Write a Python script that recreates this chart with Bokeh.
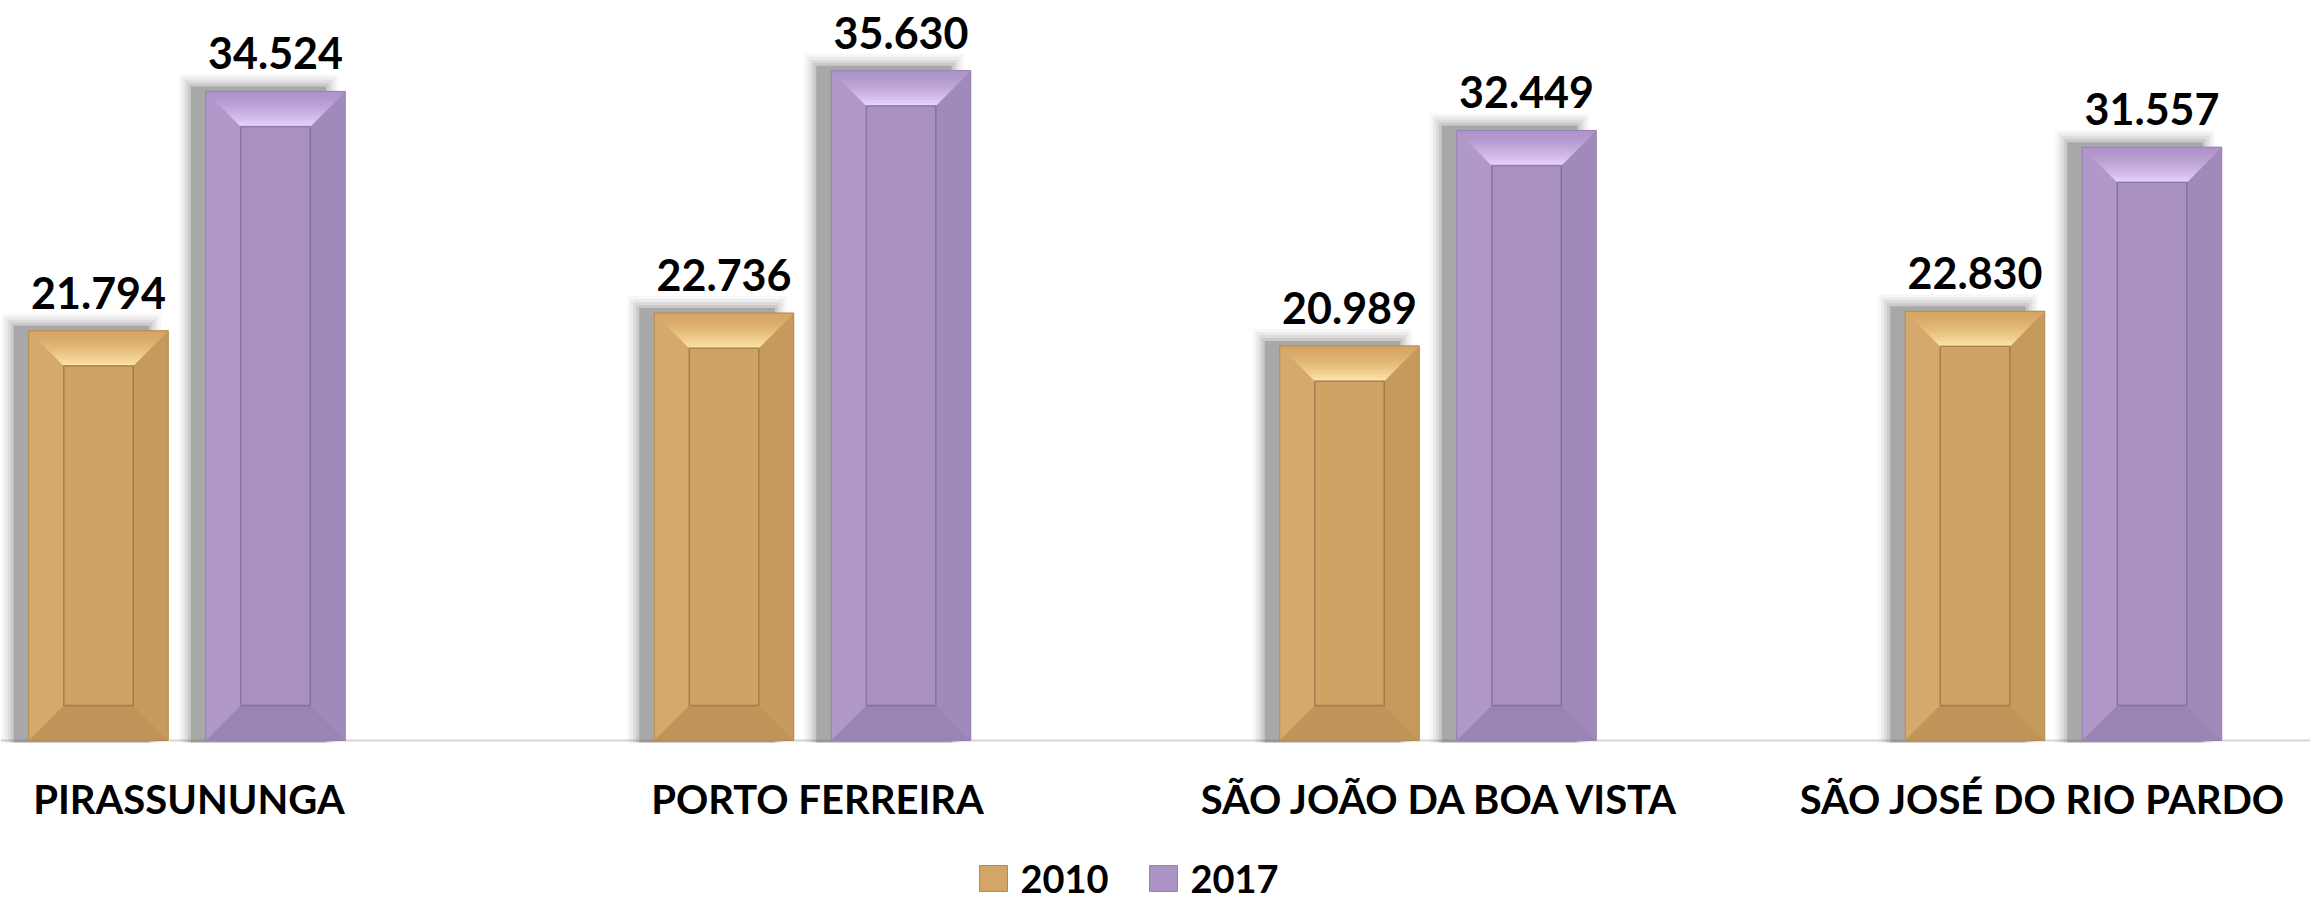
from bokeh.plotting import figure
from bokeh.models import Range1d
from bokeh.core.properties import value
from bokeh.embed import file_html
from bokeh.resources import INLINE

# ---------------- data ----------------
categories = ["PIRASSUNUNGA", "PORTO FERREIRA", "SÃO JOÃO DA BOA VISTA", "SÃO JOSÉ DO RIO PARDO"]
years = ["2010", "2017"]
values_2010 = [21794, 22736, 20989, 22830]
values_2017 = [34524, 35630, 32449, 31557]

# ---------------- layout constants ----------------
W, H = 2310, 904
PX_X = 625.5          # pixels per category step
PX_Y = 0.0188         # pixels per unit of value
X_START = -186.5 / PX_X
X_END = X_START + W / PX_X
Y_END = 740 / PX_Y
FONT = "Lato"

def dx(px):
    return px / PX_X

def dy(px):
    return px / PX_Y

def sx(px):
    return X_START + px / PX_X

def sy(py):
    return (740 - py) / PX_Y

p = figure(width=W, height=H,
           x_range=Range1d(X_START, X_END),
           y_range=Range1d(Y_END - H / PX_Y, Y_END),
           x_axis_type=None, y_axis_type=None,
           output_backend="svg", toolbar_location=None, min_border=0)
p.outline_line_color = None
p.background_fill_color = "white"
p.border_fill_color = "white"
p.xgrid.visible = False
p.ygrid.visible = False

# ---------------- baseline ----------------
p.segment(x0=[X_START], y0=[0], x1=[X_END], y1=[0], line_color="#d6d6d6", line_width=2)

# ---------------- bars ----------------
OFF = dx(88.5)
BW = dx(139.5)
BX = dx(35)
BY = dy(35)

styles = {
    "2010": dict(base="#D3A668", left="#D5A96B", right="#C59A5C", bottom="#BE9458",
                 inner="#CFA363", top_out=(0xD6, 0xA6, 0x64), top_in=(0xFF, 0xE6, 0xA8),
                 edge="#B48A50", inner_edge="#7E6038"),
    "2017": dict(base="#AB93C6", left="#B198CB", right="#A08AB9", bottom="#9A84B3",
                 inner="#A890C2", top_out=(0xAE, 0x94, 0xCA), top_in=(0xEA, 0xD4, 0xFF),
                 edge="#9780B3", inner_edge="#6E5A88"),
}

def hexc(rgb):
    return "#%02x%02x%02x" % tuple(int(round(c)) for c in rgb)

for year, vals, sign in (("2010", values_2010, -1), ("2017", values_2017, 1)):
    st = styles[year]
    x0 = [i + sign * OFF - BW / 2 for i in range(len(vals))]
    x1 = [i + sign * OFF + BW / 2 for i in range(len(vals))]

    # soft shadow (shifted left / up, blurred by layering)
    for grow, alpha in ((10, 0.05), (7, 0.07), (4, 0.10), (1, 0.14), (-2, 0.30)):
        p.quad(left=[a - dx(17) - dx(grow) for a in x0],
               right=[b - dx(17) + dx(grow) for b in x1],
               bottom=[dy(-2) for _ in vals],
               top=[v + dy(7) + dy(grow) for v in vals],
               fill_color="#5a5a5a", fill_alpha=alpha, line_color=None)

    p.quad(left=x0, right=x1, top=vals, bottom=[0] * len(vals),
           fill_color=st["base"], line_color=None)

    # left and right bevels
    p.patches(xs=[[a, a, a + BX, a + BX] for a in x0],
              ys=[[0, v, v - BY, BY] for v in vals], fill_color=st["left"], line_color=None)
    p.patches(xs=[[b, b, b - BX, b - BX] for b in x1],
              ys=[[0, v, v - BY, BY] for v in vals], fill_color=st["right"], line_color=None)
    # bottom bevel
    p.patches(xs=[[a, b, b - BX, a + BX] for a, b in zip(x0, x1)],
              ys=[[0, 0, BY, BY] for _ in vals], fill_color=st["bottom"], line_color=None)
    # top bevel as gradient bands
    N = 12
    for j in range(N):
        t0, t1 = j / N, (j + 1) / N
        tm = ((t0 + t1) / 2) ** 1.6
        col = hexc([o + (n - o) * tm for o, n in zip(st["top_out"], st["top_in"])])
        p.patches(xs=[[a + t0 * BX, b - t0 * BX, b - t1 * BX, a + t1 * BX] for a, b in zip(x0, x1)],
                  ys=[[v - t0 * BY, v - t0 * BY, v - t1 * BY, v - t1 * BY] for v in vals],
                  fill_color=col, line_color=col, line_width=0.5)
    # inner face
    p.quad(left=[a + BX for a in x0], right=[b - BX for b in x1],
           bottom=[BY for _ in vals], top=[v - BY for v in vals],
           fill_color=st["inner"], line_color=st["inner_edge"], line_alpha=0.55, line_width=1.5)
    # outer outline
    p.quad(left=x0, right=x1, top=vals, bottom=[0] * len(vals),
           fill_alpha=0, line_color=st["edge"], line_width=1)

    # value labels
    centers = [i + sign * OFF for i in range(len(vals))]
    p.text(x=centers, y=vals, text=[f"{v:,}".replace(",", ".") for v in vals],
           text_align="center", text_baseline="alphabetic", y_offset=-38,
           text_font=value(FONT), text_font_style="bold", text_font_size="43px", text_color="black")

# ---------------- category labels under the baseline ----------------
label_shift_px = [2, 5, 3, -21]   # the chart nudges the last label inward to fit
p.text(x=list(range(len(categories))), y=[0] * len(categories), text=categories,
       text_align="center", text_baseline="middle", y_offset=58, x_offset=label_shift_px,
       text_font=value(FONT), text_font_style="bold", text_font_size="40px", text_color="black")

# ---------------- legend (drawn from the series names) ----------------
leg_x = [sx(979), sx(1149)]
leg_y = sy(878)
p.quad(left=leg_x, right=[x + dx(28) for x in leg_x],
       bottom=[leg_y - dy(13)] * 2, top=[leg_y + dy(13)] * 2,
       fill_color=[styles[y]["base"] for y in years], line_color=[styles[y]["edge"] for y in years])
p.text(x=[x + dx(41) for x in leg_x], y=[leg_y] * 2, text=years,
       text_align="left", text_baseline="middle",
       text_font=value(FONT), text_font_style="bold", text_font_size="38px", text_color="black")

open("out.html", "w").write(file_html(p, INLINE))
